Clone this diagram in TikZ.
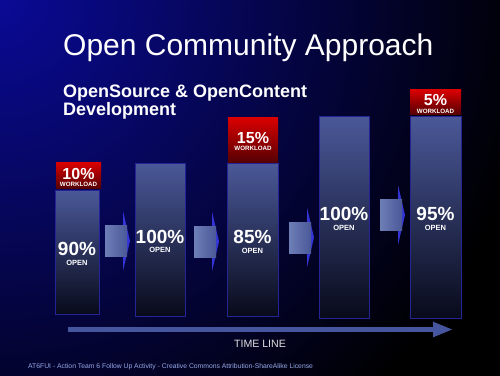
\documentclass[tikz,border=0pt]{standalone}
\usepackage{fontspec}
\setmainfont{Liberation Sans}
\usetikzlibrary{arrows.meta}

\definecolor{bgblue}{RGB}{10,10,150}
\definecolor{bartop}{RGB}{74,88,152}
\definecolor{barbottom}{RGB}{8,10,26}
\definecolor{barline}{RGB}{36,36,150}
\definecolor{redtop}{RGB}{220,0,0}
\definecolor{redbottom}{RGB}{85,0,4}
\definecolor{shaftlight}{RGB}{110,126,182}
\definecolor{shaftdark}{RGB}{74,88,152}
\definecolor{headblue}{RGB}{52,52,215}
\definecolor{lineblue}{RGB}{70,86,158}
\definecolor{footblue}{RGB}{150,170,232}

\tikzset{
  bar/.style={draw=barline, line width=0.8pt, top color=bartop, bottom color=barbottom,
    anchor=north west, inner sep=0pt},
  load/.style={top color=redtop, bottom color=redbottom, anchor=north west, inner sep=0pt},
  pct/.style={text=white, anchor=base, inner sep=0pt, font=\bfseries\fontsize{19}{19}\selectfont},
  opentxt/.style={text=white, anchor=base, inner sep=0pt, font=\bfseries\fontsize{7.5}{7.5}\selectfont},
  loadpct/.style={text=white, anchor=base, inner sep=0pt, font=\bfseries\fontsize{16}{16}\selectfont},
  loadtxt/.style={text=white, anchor=base, inner sep=0pt, font=\bfseries\fontsize{6.2}{6.2}\selectfont},
}

\begin{document}
\begin{tikzpicture}[x=1pt, y=-1pt, >={Triangle[length=20pt, width=14pt]}]
    \useasboundingbox (0,0) rectangle (500,375);

    % 背景
    \fill[black] (-3,-3) rectangle (503,378);
    \begin{scope}
      \clip (-3,-3) rectangle (503,378);
      \shade[inner color=bgblue, outer color=black] (0,0) circle (540);
    \end{scope}

    % 見出し
    \node[anchor=base west, inner sep=0pt, text=white, font=\fontsize{30}{30}\selectfont]
      (title) at (63,55) {Open Community Approach};
    \node[anchor=base west, inner sep=0pt, text=white, font=\bfseries\fontsize{18}{18}\selectfont]
      (sub1) at (63,97) {OpenSource \& OpenContent};
    \node[anchor=base west, inner sep=0pt, text=white, font=\bfseries\fontsize{18}{18}\selectfont]
      (sub2) at (63,115) {Development};

    % 棒
    \node[bar, minimum width=44pt, minimum height=124pt] (bar1) at (55,190) {};
    \node[bar, minimum width=50pt, minimum height=153pt] (bar2) at (135,163) {};
    \node[bar, minimum width=51pt, minimum height=153pt] (bar3) at (227,163) {};
    \node[bar, minimum width=50pt, minimum height=202pt] (bar4) at (319,116) {};
    \node[bar, minimum width=51pt, minimum height=202pt] (bar5) at (410,116) {};

    % 赤い箱
    \node[load, minimum width=45pt, minimum height=26pt] (load1) at (56,162) {};
    \node[load, minimum width=50pt, minimum height=45pt] (load3) at (228,117) {};
    \node[load, minimum width=51pt, minimum height=25pt] (load5) at (410,89) {};

    % 棒の間の矢印
    \foreach \ax/\ay in {105/241, 194/241.5, 289/237.5, 380/215} {
      \fill[headblue] ({\ax+18},{\ay-30}) -- ({\ax+25},\ay) -- ({\ax+18},{\ay+30}) -- cycle;
      \shade[left color=shaftlight, right color=shaftdark]
        (\ax,{\ay-15.5}) rectangle ({\ax+22},{\ay+15.5});
    }

    % 数字
    \node[pct] (p1) at (77,255) {90\%};
    \node[opentxt] (o1) at (77,265) {OPEN};
    \node[pct] (p2) at (160,243) {100\%};
    \node[opentxt] (o2) at (160,252) {OPEN};
    \node[pct] (p3) at (252.5,243) {85\%};
    \node[opentxt] (o3) at (252.5,253) {OPEN};
    \node[pct] (p4) at (344,220) {100\%};
    \node[opentxt] (o4) at (344,230) {OPEN};
    \node[pct] (p5) at (435.5,220) {95\%};
    \node[opentxt] (o5) at (435.5,230) {OPEN};

    \node[loadpct] (w1) at (78.5,179) {10\%};
    \node[loadtxt] (l1) at (78.5,186) {WORKLOAD};
    \node[loadpct] (w3) at (253,143) {15\%};
    \node[loadtxt] (l3) at (253,150) {WORKLOAD};
    \node[loadpct] (w5) at (435.5,105) {5\%};
    \node[loadtxt] (l5) at (435.5,113) {WORKLOAD};

    % 時間軸
    \coordinate (tstart) at (68,329.5);
    \coordinate (tend) at (453,329.5);
    \draw[->, lineblue, line width=5pt] (tstart) -- (tend);
    \node[anchor=base, inner sep=0pt, text=white!88!black, font=\fontsize{10.6}{10.6}\selectfont]
      (tline) at (260,347) {TIME LINE};

    % 下の注記
    \node[anchor=base west, inner sep=0pt, text=footblue, font=\fontsize{6.8}{6.8}\selectfont]
      (foot) at (28,368) {AT6FUI - Action Team 6 Follow Up Activity - Creative Commons Attribution-ShareAlike License};
  \end{tikzpicture}
\end{document}
